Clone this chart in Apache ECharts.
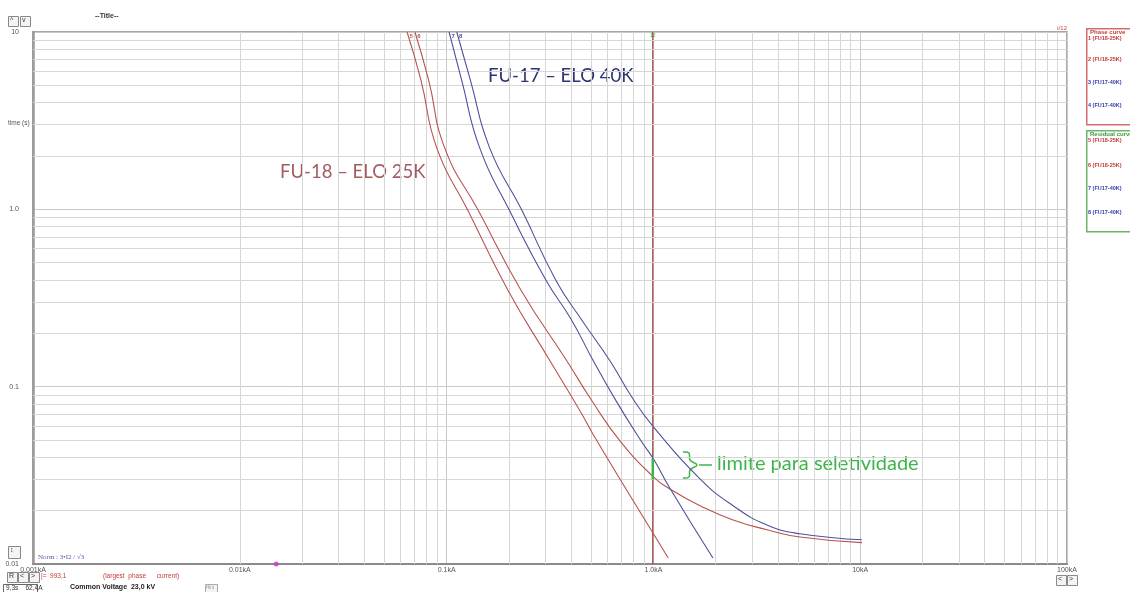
<!DOCTYPE html>
<html><head><meta charset="utf-8">
<script src="https://cdn.jsdelivr.net/npm/echarts@6/dist/echarts.min.js"></script>
<style>html,body{margin:0;padding:0;background:#fff}#c{width:1130px;height:592px}</style>
</head><body><div id="c"></div>
<script>
// ---- axis ticks ----
const xTicks = [0.001, 0.01, 0.1, 1, 10, 100];
const xTickLabels = ['0.001kA', '0.01kA', '0.1kA', '1.0kA', '10kA', '100kA'];
const yTicks = [0.01, 0.1, 1, 10];
const yTickLabels = ['0.01', '0.1', '1.0', '10'];
const minorMultipliers = [2, 3, 4, 5, 6, 7, 8, 9];

// ---- curves: [current kA, time s] ----
const curve5 = [[0.0644,10],[0.075,5.4],[0.0899,2.2],[0.1265,0.99],[0.198,0.35],[0.316,0.14],[0.442,0.073],[0.533,0.0495],[1.0,0.0148],[1.18,0.0108]];
const curve6 = [[0.0703,10],[0.0817,5.4],[0.0982,2.2],[0.142,0.99],[0.229,0.35],[0.381,0.14],[0.505,0.083],[0.689,0.0495],[1.0,0.031],[1.2,0.0265],[1.68,0.0213],[2.43,0.0177],[3.54,0.0156],[5.12,0.0142],[10.2,0.0132]];
const curve7 = [[0.1028,10],[0.118,5.4],[0.145,2.2],[0.201,0.99],[0.303,0.397],[0.40,0.24],[0.512,0.14],[0.659,0.0834],[0.871,0.0495],[1.0,0.0392],[1.2,0.0268],[1.94,0.0108]];
const curve8 = [[0.112,10],[0.130,5.4],[0.162,2.2],[0.231,0.99],[0.338,0.397],[0.452,0.236],[0.616,0.14],[0.796,0.0855],[1.0,0.0594],[1.68,0.0302],[2.43,0.0213],[3.54,0.0166],[5.12,0.0148],[10.2,0.0137]];
const curveNames = ['5', '6', '7', '8'];
const largestPhaseCurrent = 0.9931; // kA
const selectivityLimit = [0.0392, 0.0300]; // s
const markerCurrent = [0.015];

const RED = '#b9534f', BLUE = '#4d519c', GREEN = '#3db54a';
const xMinor = [], yMinor = [];
xTicks.slice(0, -1).forEach(d => minorMultipliers.forEach(m => xMinor.push(d * m)));
yTicks.slice(0, -1).forEach(d => minorMultipliers.forEach(m => yMinor.push(d * m)));

function tickLabel(ticks, labels) {
  return v => { const i = ticks.findIndex(t => Math.abs(Math.log10(t) - Math.log10(v)) < 1e-6); return i >= 0 ? labels[i] : ''; };
}
function curveSeries(name, data, color) {
  return {
    type: 'line', name, data, smooth: 0.5, showSymbol: false, z: 5,
    lineStyle: { color, width: 1.1 }, itemStyle: { color },
    markPoint: { symbol: 'circle', symbolSize: 0, silent: true,
      data: [{ coord: data[0], label: { show: true, formatter: name, position: 'bottom', distance: 1, offset: [4, 0], color, fontSize: 6, fontWeight: 'bold', fontFamily: 'Liberation Sans' } }] }
  };
}
const uiFont = 'Liberation Sans';
function btn(x, y, w, h, t) {
  return [{ type: 'rect', left: x, top: y, shape: { width: w, height: h }, style: { fill: '#f4f4f4', stroke: '#888', lineWidth: 1 } },
          { type: 'text', left: x + 2, top: y + 1, style: { text: t, fontSize: 7, fontFamily: uiFont, fill: '#333' } }];
}
function txt(x, y, t, size, color, extra) {
  return Object.assign({ type: 'text', left: x, top: y, style: Object.assign({ text: t, fontSize: size, fill: color, fontFamily: uiFont }, extra || {}) });
}

const chart = echarts.init(document.getElementById('c'));
chart.setOption({
  animation: false,
  grid: { left: 33, right: 63, top: 32, bottom: 28, show: true, borderColor: '#8a8a8a', borderWidth: 1.5 },
  xAxis: { type: 'log', logBase: 10, min: 0.001, max: 100,
    axisLine: { show: true, lineStyle: { color: '#8a8a8a', width: 2 } }, axisTick: { show: false },
    axisLabel: { formatter: tickLabel(xTicks, xTickLabels), fontSize: 7, color: '#555', margin: 3, fontFamily: uiFont },
    splitLine: { show: true, lineStyle: { color: '#c9c9c9', width: 1 } } },
  yAxis: { type: 'log', logBase: 10, min: 0.01, max: 10,
    axisLine: { show: true, lineStyle: { color: '#9a9a9a', width: 2.5 } }, axisTick: { show: false },
    axisLabel: { formatter: tickLabel(yTicks, yTickLabels), fontSize: 7, color: '#555', margin: 14, fontFamily: uiFont },
    splitLine: { show: true, lineStyle: { color: '#c9c9c9', width: 1 } } },
  series: [
    { type: 'line', name: 'grid', data: [], z: 1, silent: true,
      markLine: { silent: true, symbol: ['none', 'none'], label: { show: false }, animation: false,
        lineStyle: { color: '#d6d6d6', width: 1, type: 'solid' },
        data: xMinor.map(v => ({ xAxis: v })).concat(yMinor.map(v => ({ yAxis: v }))) } },
    { type: 'line', name: 'I', data: [[largestPhaseCurrent, 0.01], [largestPhaseCurrent, 10]], showSymbol: false, z: 4,
      lineStyle: { color: '#a33c3c', width: 1.2 },
      markPoint: { symbol: 'circle', symbolSize: 0, silent: true,
        data: [{ coord: [largestPhaseCurrent, 10], label: { show: true, formatter: '12', position: 'bottom', distance: 1, color: GREEN, fontSize: 5, fontFamily: uiFont } }] } },
    { type: 'line', name: 'limit', data: selectivityLimit.map(t => [largestPhaseCurrent, t]), showSymbol: false, z: 6,
      lineStyle: { color: GREEN, width: 2.5 } },
    curveSeries(curveNames[0], curve5, RED),
    curveSeries(curveNames[1], curve6, RED),
    curveSeries(curveNames[2], curve7, BLUE),
    curveSeries(curveNames[3], curve8, BLUE),
    { type: 'scatter', name: 'marker', data: markerCurrent.map(v => [v, 0.01]), symbolSize: 5, z: 7, itemStyle: { color: '#c23cc2' } }
  ],
  graphic: [].concat(
    btn(8, 16, 10, 10, '^'), btn(20, 16, 10, 10, 'v'),
    [txt(95, 13, '--Title--', 7, '#333', { fontWeight: 'bold' }),
     txt(8, 120, 'time (s)', 6.5, '#555'),
     txt(1057, 25, 't/12', 6, '#c24a4a'),
     txt(488, 67, 'FU-17 – ELO 40K', 18.5, '#2d3472', { fontFamily: 'Lato' }),
     txt(280, 163, 'FU-18 – ELO 25K', 18.5, '#a35b5e', { fontFamily: 'Lato' }),
     { type: 'polyline', shape: { points: [[683, 452], [689, 453], [690, 460], [697, 465], [690, 470], [689, 477], [683, 478]], smooth: 0.4 }, style: { stroke: GREEN, lineWidth: 1.5, fill: null } },
     { type: 'line', shape: { x1: 699, y1: 465, x2: 712, y2: 465 }, style: { stroke: GREEN, lineWidth: 1.5 } },
     txt(717, 454, 'limite para seletividade', 20, GREEN, { fontFamily: 'Lato' }),
     // legend
     { type: 'rect', left: 1086, top: 28, shape: { width: 60, height: 96 }, style: { fill: '#fff', stroke: '#d46c6c', lineWidth: 1.5 } },
     txt(1090, 29, 'Phase curve', 6, '#c23c3c', { fontWeight: 'bold' }),
     txt(1088, 35, '1 (FU18-25K)', 5.5, '#c23c3c', { fontWeight: 'bold' }),
     txt(1088, 56, '2 (FU18-25K)', 5.5, '#c23c3c', { fontWeight: 'bold' }),
     txt(1088, 79, '3 (FU17-40K)', 5.5, '#3c3ca8', { fontWeight: 'bold' }),
     txt(1088, 102, '4 (FU17-40K)', 5.5, '#3c3ca8', { fontWeight: 'bold' }),
     { type: 'rect', left: 1086, top: 130, shape: { width: 60, height: 101 }, style: { fill: '#fff', stroke: '#6db46d', lineWidth: 1.5 } },
     txt(1090, 131, 'Residual curve', 6, '#3a9a3a', { fontWeight: 'bold' }),
     txt(1088, 137, '5 (FU18-25K)', 5.5, '#c23c3c', { fontWeight: 'bold' }),
     txt(1088, 162, '6 (FU18-25K)', 5.5, '#c23c3c', { fontWeight: 'bold' }),
     txt(1088, 185, '7 (FU17-40K)', 5.5, '#3c3ca8', { fontWeight: 'bold' }),
     txt(1088, 209, '8 (FU17-40K)', 5.5, '#3c3ca8', { fontWeight: 'bold' }),
     // bottom
     txt(38, 554, 'Norm : 3•I2 / √3', 7, '#5a5aaa', { fontFamily: 'Liberation Serif' }),
     txt(41, 573, '|=  993,1', 6.5, '#c23c3c'),
     txt(103, 573, '(largest  phase      current)', 6.5, '#c23c3c'),
     { type: 'rect', left: 3, top: 584, shape: { width: 34, height: 9 }, style: { fill: '#fff', stroke: '#666', lineWidth: 1 } },
     txt(6, 585, '9,3s    62,4A', 6.5, '#333'),
     txt(70, 584, 'Common Voltage  23,0 kV', 7, '#222', { fontWeight: 'bold' }),
     { type: 'rect', left: 205, top: 584, shape: { width: 12, height: 8 }, style: { fill: '#f4f4f4', stroke: '#aaa', lineWidth: 1 } },
     txt(206, 585, 'Hint', 4.5, '#999')],
    btn(8, 546, 12, 12, '↕'),
    btn(7, 572, 10, 10, 'R'), btn(18, 572, 10, 10, '<'), btn(29, 572, 10, 10, '>'),
    btn(1056, 575, 10, 10, '<'), btn(1067, 575, 10, 10, '>')
  )
});
</script></body></html>
